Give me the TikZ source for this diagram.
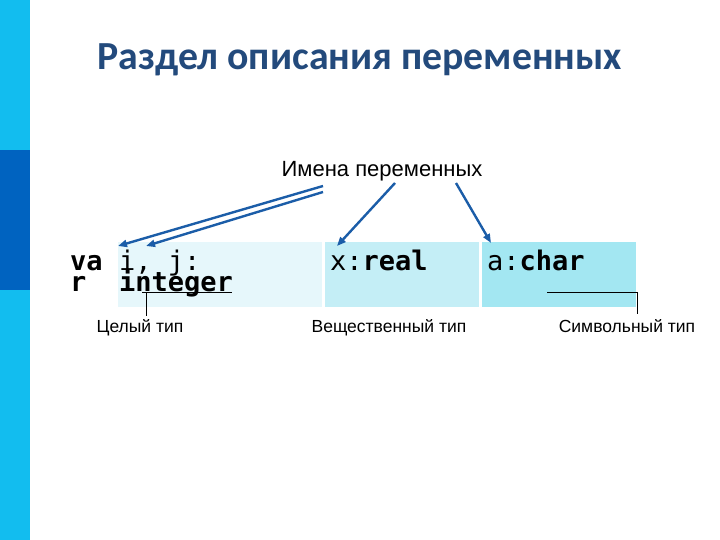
\documentclass[tikz,border=0pt]{standalone}
\usepackage{fontspec}
\setmainfont{Liberation Sans}
\newfontfamily\titlefont{Carlito}
\newfontfamily\codefont{DejaVu Sans Mono}
\usetikzlibrary{arrows.meta}
\definecolor{barcyan}{HTML}{12BDEF}
\definecolor{bardark}{HTML}{0063C0}
\definecolor{titleblue}{HTML}{234A7C}
\definecolor{arrowblue}{HTML}{1B5DA8}
\definecolor{boxa}{HTML}{E6F7FB}
\definecolor{boxb}{HTML}{C4EEF6}
\definecolor{boxc}{HTML}{A3E7F2}
\tikzset{
  cell/.style={draw=none,inner sep=0pt,anchor=north west},
  code/.style={inner sep=0pt,anchor=base west,text height=15pt,text depth=3pt,font=\codefont\fontsize{27}{21}\selectfont},
  lbl/.style={inner sep=0pt,anchor=base,font=\fontsize{17.5}{19}\selectfont},
  namearrow/.style={draw=arrowblue,line width=2.4pt,-{Triangle[length=9pt,width=7pt]}},
  leader/.style={draw=black,line width=0.8pt}
}
\begin{document}
\begin{tikzpicture}[x=1pt,y=-1pt]
\useasboundingbox (0,0) rectangle (720,540);
\fill[white] (0,0) rectangle (720,540);
% left bar
\fill[barcyan] (0,0) rectangle (30,540);
\fill[bardark] (0,150) rectangle (30,290);
% title
\node[inner sep=0pt,font=\titlefont\bfseries\fontsize{39.8}{44}\selectfont,text=titleblue] (title) at (360,60) {Раздел описания переменных};
% boxes
\node[cell,fill=boxa,minimum width=204pt,minimum height=65pt] (b1) at (118,242) {};
\node[cell,fill=boxb,minimum width=154pt,minimum height=65pt] (b2) at (325,242) {};
\node[cell,fill=boxc,minimum width=154pt,minimum height=65pt] (b3) at (482,242) {};
% code text
\node[code] (var1) at (70,270) {\textbf{va}};
\node[code] (var2) at (70,291) {\textbf{r}};
\node[code] (ij) at (119,270) {i, j:};
\node[code] (int) at (119,291) {\textbf{integer}};
\node[code] (xr) at (330,270) {x:\textbf{real}};
\node[code] (ac) at (487,270) {a:\textbf{char}};
% labels
\node[inner sep=0pt,anchor=base,font=\fontsize{22}{24}\selectfont] (names) at (382,177) {Имена переменных};
\node[lbl] (lint) at (140,332) {Целый тип};
\node[lbl] (lreal) at (389,332) {Вещественный тип};
\node[lbl] (lchar) at (627,332) {Символьный тип};
% arrows
\coordinate (s1) at (323,186);
\coordinate (s2) at (323,192);
\coordinate (s3) at (395,183);
\coordinate (s4) at (456,183);
\coordinate (e1) at (118,246);
\coordinate (e2) at (146,246);
\coordinate (e3) at (337,246);
\coordinate (e4) at (491,243);
\draw[namearrow] (s1) -- (e1);
\draw[namearrow] (s2) -- (e2);
\draw[namearrow] (s3) -- (e3);
\draw[namearrow] (s4) -- (e4);
% leader lines
\coordinate (li0) at (142,292);
\coordinate (li1) at (232,292);
\coordinate (li2) at (146,292);
\coordinate (li3) at (146,316);
\draw[leader] (li0) -- (li1);
\draw[leader] (li2) -- (li3);
\coordinate (lc1) at (547,292);
\coordinate (lc2) at (637,292);
\coordinate (lc3) at (637,314);
\draw[leader] (lc1) -- (lc2) -- (lc3);
\end{tikzpicture}
\end{document}
